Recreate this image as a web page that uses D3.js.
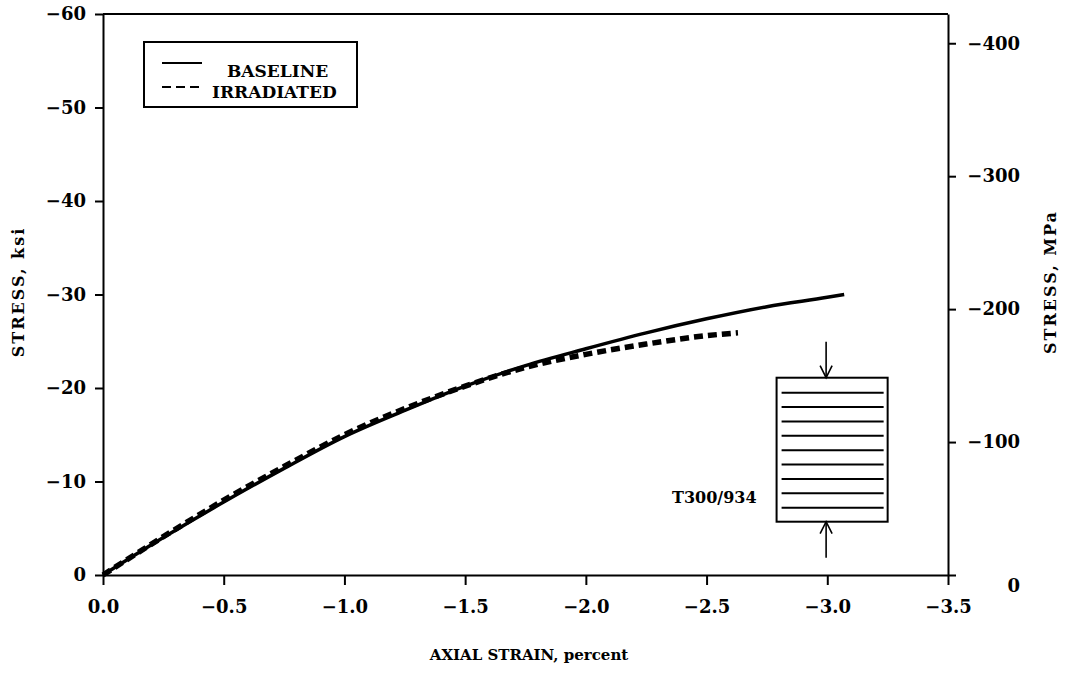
<!DOCTYPE html>
<html><head>
<meta charset="utf-8">
<script src="https://d3js.org/d3.v7.min.js"></script>
<style>
body { margin: 0; background: #fff; }
text { font-family: "DejaVu Serif", serif; font-weight: bold; fill: #000; }
</style>
</head>
<body>
<script>
// courbes (deformation %, contrainte ksi)
const baselineStrain = [0, -0.25, -0.5, -0.75, -1.0, -1.25, -1.5, -1.75, -2.0, -2.25, -2.5, -2.75, -3.0, -3.07];
const baselineStress = [0, -4.0, -7.8, -11.4, -14.8, -17.6, -20.2, -22.4, -24.2, -25.9, -27.4, -28.7, -29.7, -30.0];
const irradStrain = [0, -0.25, -0.5, -0.75, -1.0, -1.25, -1.5, -1.75, -2.0, -2.25, -2.5, -2.63];
const irradStress = [0, -4.1, -8.0, -11.6, -15.0, -17.8, -20.2, -22.2, -23.6, -24.7, -25.6, -25.9];

const xTicks = [0, -0.5, -1.0, -1.5, -2.0, -2.5, -3.0, -3.5];
const ksiTicks = [0, -10, -20, -30, -40, -50, -60];
const mpaTicks = [0, -100, -200, -300, -400];
const legendLabels = ["BASELINE", "IRRADIATED"];

const W = 1071, H = 684;
const m = {left: 103, right: 948, top: 14, bottom: 575};

const x = d3.scaleLinear().domain([0, -3.5]).range([m.left, m.right]);
const y = d3.scaleLinear().domain([0, -60]).range([m.bottom, m.top]);
const yMPa = d3.scaleLinear().domain([0, -422]).range([m.bottom, m.top]);

const svg = d3.select("body").append("svg")
  .attr("width", W).attr("height", H);

// cadre
svg.append("line").attr("x1", m.left).attr("x2", m.right).attr("y1", m.top).attr("y2", m.top)
  .attr("stroke", "#000").attr("stroke-width", 2);

const axX = svg.append("g").attr("transform", "translate(0," + m.bottom + ")")
  .call(d3.axisBottom(x).tickValues(xTicks).tickFormat(d3.format(".1f")).tickSize(10).tickSizeOuter(0).tickPadding(15));
const axL = svg.append("g").attr("transform", "translate(" + m.left + ",0)")
  .call(d3.axisLeft(y).tickValues(ksiTicks).tickFormat(d3.format("d")).tickSize(8).tickSizeOuter(0).tickPadding(9));
const axR = svg.append("g").attr("transform", "translate(" + m.right + ",0)")
  .call(d3.axisRight(yMPa).tickValues(mpaTicks).tickFormat(d3.format("d")).tickSize(8).tickSizeOuter(0));

[axX, axL, axR].forEach(a => {
  a.selectAll("path, line").attr("stroke", "#000").attr("stroke-width", 2);
  a.selectAll("text").style("font-size", "18px").style("font-family", "DejaVu Serif").style("font-weight", "bold");
});
// etiquettes MPa alignees a droite
axR.selectAll("text").attr("x", 72).attr("text-anchor", "end");
axR.selectAll(".tick").filter(d => d === 0).select("text").attr("dy", "0.9em");

// titres
svg.append("text").attr("x", 529).attr("y", 660).attr("text-anchor", "middle")
  .style("font-size", "15px").text("AXIAL STRAIN, percent");
svg.append("text").attr("transform", "translate(24,292) rotate(-90)").attr("text-anchor", "middle")
  .style("font-size", "16px").style("letter-spacing", "2px").text("STRESS, ksi");
svg.append("text").attr("transform", "translate(1056,282) rotate(-90)").attr("text-anchor", "middle")
  .style("font-size", "16px").style("letter-spacing", "2px").text("STRESS, MPa");

// courbes
const line = d3.line().x(d => x(d[0])).y(d => y(d[1])).curve(d3.curveMonotoneX);
svg.append("path").datum(d3.zip(baselineStrain, baselineStress))
  .attr("d", line).attr("fill", "none").attr("stroke", "#000").attr("stroke-width", 3.5);
svg.append("path").datum(d3.zip(irradStrain, irradStress))
  .attr("d", line).attr("fill", "none").attr("stroke", "#000").attr("stroke-width", 5.5)
  .attr("stroke-dasharray", "9,5");

// legende
const lg = svg.append("g");
lg.append("rect").attr("x", 144).attr("y", 42).attr("width", 213).attr("height", 65)
  .attr("fill", "none").attr("stroke", "#000").attr("stroke-width", 2);
lg.append("line").attr("x1", 162).attr("x2", 202).attr("y1", 63).attr("y2", 63)
  .attr("stroke", "#000").attr("stroke-width", 1.8);
lg.append("line").attr("x1", 162).attr("x2", 202).attr("y1", 87).attr("y2", 87)
  .attr("stroke", "#000").attr("stroke-width", 1.8).attr("stroke-dasharray", "9,5");
lg.append("text").attr("x", 227).attr("y", 77).style("font-size", "17px").text(legendLabels[0]);
lg.append("text").attr("x", 212).attr("y", 98).style("font-size", "17px").text(legendLabels[1]);

// schema de l'eprouvette (position en coordonnees du graphique)
const spec = {x0: -2.79, x1: -3.25, yTop: -21.1, yBot: -5.7, nPlies: 9};
const sx0 = x(spec.x0), sx1 = x(spec.x1), sy0 = y(spec.yTop), sy1 = y(spec.yBot);
const sc = (sx0 + sx1) / 2;
const sg = svg.append("g").attr("stroke", "#000");
sg.append("rect").attr("x", sx0).attr("y", sy0).attr("width", sx1 - sx0).attr("height", sy1 - sy0)
  .attr("fill", "none").attr("stroke-width", 2);
const plyY = d3.scaleLinear().domain([0, spec.nPlies - 1]).range([sy0 + 15, sy1 - 14]);
sg.selectAll(".ply").data(d3.range(spec.nPlies)).enter().append("line")
  .attr("x1", sx0 + 5).attr("x2", sx1 - 4).attr("y1", d => plyY(d)).attr("y2", d => plyY(d))
  .attr("stroke-width", 2);
// fleches
sg.append("line").attr("x1", sc - 6).attr("x2", sc - 6).attr("y1", sy0 - 36).attr("y2", sy0).attr("stroke-width", 1.6);
sg.append("path").attr("d", `M${sc - 12},${sy0 - 12}L${sc - 6},${sy0}L${sc},${sy0 - 12}`).attr("fill", "none").attr("stroke-width", 1.6);
sg.append("line").attr("x1", sc - 6).attr("x2", sc - 6).attr("y1", sy1 + 36).attr("y2", sy1).attr("stroke-width", 1.6);
sg.append("path").attr("d", `M${sc - 12},${sy1 + 12}L${sc - 6},${sy1}L${sc},${sy1 + 12}`).attr("fill", "none").attr("stroke-width", 1.6);

svg.append("text").attr("x", sx0 - 20).attr("y", 503).attr("text-anchor", "end")
  .style("font-size", "16px").text("T300/934");
</script>
</body>
</html>
